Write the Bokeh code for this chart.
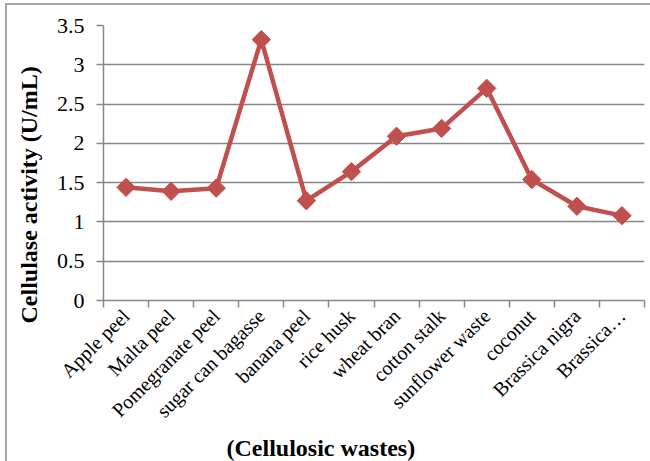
import numpy as np
from bokeh.plotting import figure
from bokeh.models import Range1d, FixedTicker, CustomJSTickFormatter, NumeralTickFormatter, Title
from bokeh.embed import file_html
from bokeh.resources import INLINE

categories = ["Apple peel", "Malta peel", "Pomegranate peel", "sugar can bagasse",
              "banana peel", "rice husk", "wheat bran", "cotton stalk",
              "sunflower waste", "coconut", "Brassica nigra", "Brassica…"]
activity = [1.44, 1.39, 1.43, 3.32, 1.27, 1.64, 2.09, 2.19, 2.70, 1.54, 1.20, 1.08]
y_ticks = [0, 0.5, 1, 1.5, 2, 2.5, 3, 3.5]
y_title = "Cellulase activity (U/mL)"
x_title = "(Cellulosic wastes)"

FONT = "Liberation Serif"
RED = "#C0504D"
GREY = "#868686"
FRAME_GREY = "#a6a6a6"

n = len(categories)
xpos = [i + 0.5 for i in range(n)]

p = figure(width=650, height=461, output_backend="svg", toolbar_location=None,
           x_range=Range1d(0, n), y_range=Range1d(0, 3.5),
           min_border_left=103, min_border_top=25, min_border_right=6, min_border_bottom=161)
# thin chart-area frame (top and left edges) drawn behind the transparent canvas border
p.styles = {
    "background-color": "white",
    "background-image": f"linear-gradient({FRAME_GREY},{FRAME_GREY}), linear-gradient({FRAME_GREY},{FRAME_GREY})",
    "background-size": "2px 100%, 100% 2px",
    "background-position": "5px 3px, 5px 3px",
    "background-repeat": "no-repeat",
}
p.outline_line_color = None
p.background_fill_color = "white"
p.border_fill_color = None

p.line(xpos, activity, line_color=RED, line_width=4.5)
p.scatter(xpos, activity, marker="square", angle=np.pi / 4, size=13,
          fill_color=RED, line_color=RED)

# y axis
p.yaxis.ticker = FixedTicker(ticks=y_ticks)
p.yaxis.formatter = NumeralTickFormatter(format="0.[0]")
p.yaxis.axis_line_color = GREY
p.yaxis.axis_line_width = 1.5
p.yaxis.major_tick_line_color = GREY
p.yaxis.major_tick_line_width = 1.5
p.yaxis.major_tick_out = 7
p.yaxis.major_tick_in = 0
p.yaxis.minor_tick_line_color = None
p.yaxis.major_label_text_font = FONT
p.yaxis.major_label_text_font_size = "22px"
p.yaxis.major_label_text_color = "black"
p.yaxis.major_label_standoff = 12

# x axis
p.xaxis.ticker = FixedTicker(ticks=xpos, minor_ticks=list(range(n + 1)))
p.xaxis.formatter = CustomJSTickFormatter(args=dict(labels=categories),
                                          code="return labels[Math.floor(tick)] || '';")
p.xaxis.axis_line_color = GREY
p.xaxis.axis_line_width = 1.5
p.xaxis.major_tick_line_color = None
p.xaxis.major_tick_out = 0
p.xaxis.major_tick_in = 0
p.xaxis.minor_tick_line_color = GREY
p.xaxis.minor_tick_line_width = 1.5
p.xaxis.minor_tick_out = 7
p.xaxis.minor_tick_in = 0
p.xaxis.major_label_orientation = np.pi / 4
p.xaxis.major_label_text_font = FONT
p.xaxis.major_label_text_font_size = "20px"
p.xaxis.major_label_text_color = "black"
p.xaxis.major_label_standoff = 5

p.xgrid.grid_line_color = None
p.ygrid.ticker = FixedTicker(ticks=y_ticks)
p.ygrid.grid_line_color = GREY
p.ygrid.grid_line_width = 1.5

p.add_layout(Title(text=x_title, align="left", offset=123, text_font=FONT,
                   text_font_size="24px", text_font_style="bold", text_color="black",
                   standoff=0), "below")
p.add_layout(Title(text=y_title, align="left", offset=-23, text_font=FONT,
                   text_font_size="24px", text_font_style="bold", text_color="black",
                   standoff=24), "left")

open("out.html", "w").write(file_html(p, INLINE))
